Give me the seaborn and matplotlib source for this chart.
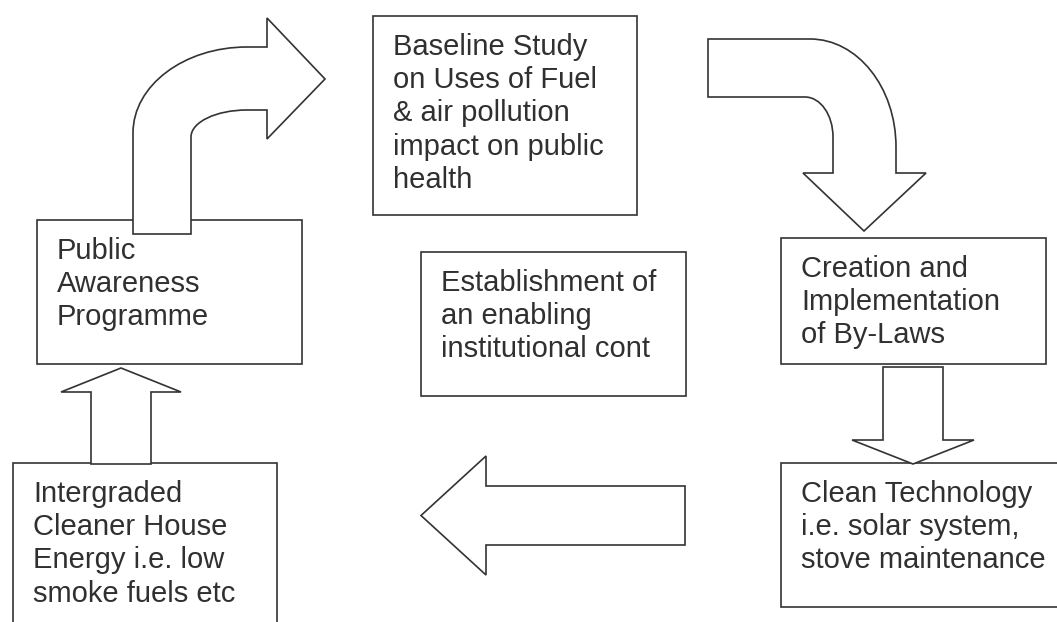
import matplotlib
matplotlib.use("Agg")
import matplotlib.pyplot as plt
import matplotlib.patches as mpatches
from matplotlib.path import Path
import seaborn as sns

# Flow diagram content (pixel coordinates, y grows downward)
box_labels = [
    "Baseline Study\non Uses of Fuel\n& air pollution\nimpact on public\nhealth",
    "Creation and\nImplementation\nof By-Laws",
    "Clean Technology\ni.e. solar system,\nstove maintenance",
    "Intergraded\nCleaner House\nEnergy i.e. low\nsmoke fuels etc",
    "Public\nAwareness\nProgramme",
    "Establishment of\nan enabling\ninstitutional cont",
]
box_left = [373, 781, 781, 13, 37, 421]
box_top = [16, 238, 463, 463, 220, 252]
box_right = [637, 1046, 1070, 277, 302, 686]
box_bottom = [215, 364, 607, 640, 364, 396]

# straight block arrows: shaft start, shaft end (at head base), tip, shaft half-width, head half-width, centre
straight_dir = ["up", "down", "left"]
straight_start = [464, 367, 685]
straight_base = [392, 440, 486]
straight_tip = [368, 464, 421]
straight_center = [121, 913, 515.5]
shaft_half = [30, 30, 29.5]
head_half = [60, 61, 59.5]

LINE = "#333333"
K = 0.5523
LINE_STEP = 33.2

sns.set_theme(style="white")
plt.rcParams["font.family"] = ["Liberation Sans", "DejaVu Sans"]

fig = plt.figure(figsize=(10.57, 6.22), dpi=100)
ax = fig.add_axes([0, 0, 1, 1])
ax.set_xlim(0, 1057)
ax.set_ylim(622, 0)
ax.axis("off")

# boxes with text, one baseline per line
for lab, l, t, r, b in zip(box_labels, box_left, box_top, box_right, box_bottom):
    ax.add_patch(mpatches.Rectangle((l, t), r - l, b - t, facecolor="white",
                                    edgecolor=LINE, lw=1.2, zorder=1))
    for i, line in enumerate(lab.split("\n")):
        ax.text(l + 20, t + 39 + i * LINE_STEP, line, ha="left", va="baseline",
                fontsize=21, color="#303030", zorder=2)

# straight arrows
for d, s, hb, tp, c, sh, hh in zip(straight_dir, straight_start, straight_base,
                                   straight_tip, straight_center, shaft_half, head_half):
    if d in ("up", "down"):
        pts = [(c - sh, s), (c - sh, hb), (c - hh, hb), (c, tp),
               (c + hh, hb), (c + sh, hb), (c + sh, s)]
    else:
        pts = [(s, c - sh), (hb, c - sh), (hb, c - hh), (tp, c),
               (hb, c + hh), (hb, c + sh), (s, c + sh)]
    ax.add_patch(mpatches.Polygon(pts, closed=True, facecolor="white",
                                  edgecolor=LINE, lw=1.2, zorder=3))

# curved arrow: up then right
M, L, C, Z = Path.MOVETO, Path.LINETO, Path.CURVE4, Path.CLOSEPOLY
v1 = [(133, 234), (133, 133),
      (133, 133 - K * 86), (247 - K * 114, 47), (247, 47),
      (267, 47), (267, 18), (325, 79), (267, 139), (267, 110), (247, 110),
      (247 - K * 56, 110), (191, 137 - K * 27), (191, 137),
      (191, 234), (133, 234)]
c1 = [M, L, C, C, C, L, L, L, L, L, L, C, C, C, L, Z]
ax.add_patch(mpatches.PathPatch(Path(v1, c1), facecolor="white",
                                edgecolor=LINE, lw=1.2, zorder=3))

# curved arrow: right then down
v2 = [(708, 39), (810, 39),
      (810 + K * 86, 39), (896, 147 - K * 108), (896, 147),
      (896, 173), (926, 173), (864, 231), (803, 173), (833, 173), (833, 137),
      (833, 137 - K * 40), (805 + K * 28, 97), (805, 97),
      (708, 97), (708, 39)]
c2 = [M, L, C, C, C, L, L, L, L, L, L, C, C, C, L, Z]
ax.add_patch(mpatches.PathPatch(Path(v2, c2), facecolor="white",
                                edgecolor=LINE, lw=1.2, zorder=3))

plt.savefig("out.png", dpi=100, facecolor="white")
